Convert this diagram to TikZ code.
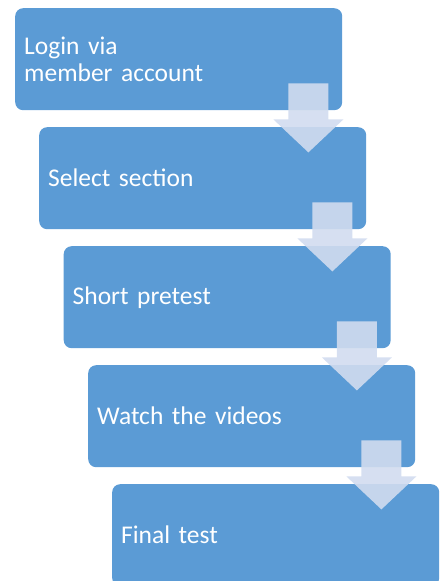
\documentclass[tikz,border=0pt]{standalone}
\usepackage{fontspec}
\setmainfont{Carlito}[WordSpace=0.8]
\usetikzlibrary{calc}
\definecolor{boxblue}{HTML}{5B9BD5}
\definecolor{arrowfill}{RGB}{209,220,239}
\tikzset{
  stepbox/.style={fill=boxblue, draw=none, rounded corners=8pt, anchor=north west,
    minimum width=327pt, minimum height=102pt, text width=309pt, inner xsep=9pt,
    align=left, text=white, font=\fontsize{25.5}{27.5}\selectfont},
  downarrow/.style={fill=arrowfill, fill opacity=0.9, draw=none}
}
\newcommand{\flowarrow}[1]{%
  \fill[downarrow]
    ($(#1.south east)+(-54,-27)$) -- ($(#1.south east)+(-14,-27)$) --
    ($(#1.south east)+(-14,9)$) -- ($(#1.south east)+(1,9)$) --
    ($(#1.south east)+(-34,42)$) -- ($(#1.south east)+(-69,9)$) --
    ($(#1.south east)+(-54,9)$) -- cycle;}
\begin{document}
\begin{tikzpicture}[x=1pt,y=-1pt]
\useasboundingbox (0,0) rectangle (441,581);
\begin{scope}
\clip (0,0) rectangle (441,581);
\node[stepbox] (b1) at (15,8) {Login via\\member account};
\node[stepbox] (b2) at (39,127) {Select section};
\node[stepbox] (b3) at (63.5,246) {Short pretest};
\node[stepbox] (b4) at (88,365) {Watch the videos};
\node[stepbox] (b5) at (112,484) {Final test};
\flowarrow{b1}
\flowarrow{b2}
\flowarrow{b3}
\flowarrow{b4}
\end{scope}
\end{tikzpicture}
\end{document}
